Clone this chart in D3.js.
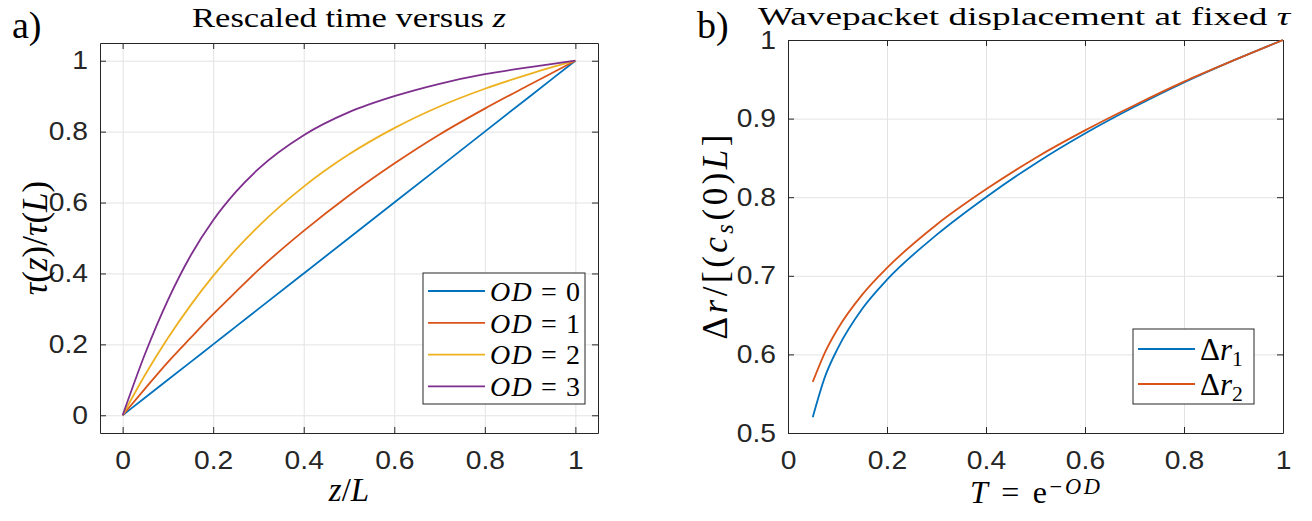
<!DOCTYPE html>
<html>
<head>
<meta charset="utf-8">
<script src="https://cdn.jsdelivr.net/npm/d3@7"></script>
<style>
  body { margin: 0; background: #fff; }
  .tick text { font-family: "Liberation Sans", Arial, sans-serif; font-size: 25px; fill: #262626; }
  .tex { font-family: "Liberation Serif", "Times New Roman", serif; fill: #000; }
</style>
</head>
<body>
<svg id="fig" width="1312" height="521"></svg>
<script>
// panel a: tau(z)/tau(L) against z/L
var zA = [0, 0.05, 0.1, 0.15, 0.2, 0.25, 0.3, 0.4, 0.5, 0.6, 0.7, 0.8, 0.9, 1];
var od0 = [0, 0.05, 0.1, 0.15, 0.2, 0.25, 0.3, 0.4, 0.5, 0.6, 0.7, 0.8, 0.9, 1];
var od1 = [0, 0.076, 0.15, 0.218, 0.285, 0.348, 0.41, 0.52, 0.62, 0.71, 0.792, 0.865, 0.933, 1];
var od2 = [0, 0.115, 0.218, 0.31, 0.393, 0.467, 0.533, 0.645, 0.736, 0.81, 0.871, 0.921, 0.963, 1];
var od3 = [0, 0.175, 0.325, 0.45, 0.55, 0.63, 0.695, 0.79, 0.855, 0.90, 0.935, 0.962, 0.982, 1];
var odLabels = ["0", "1", "2", "3"];

// panel b: displacement against transmission T
var tB = [0.05, 0.075, 0.1, 0.15, 0.2, 0.3, 0.4, 0.5, 0.6, 0.7, 0.8, 0.9, 1];
var dr1 = [0.52, 0.572, 0.607, 0.658, 0.695, 0.752, 0.80, 0.843, 0.881, 0.915, 0.946, 0.974, 1];
var dr2 = [0.565, 0.603, 0.632, 0.676, 0.71, 0.765, 0.81, 0.85, 0.885, 0.917, 0.947, 0.974, 1];

var ticksA = [0, 0.2, 0.4, 0.6, 0.8, 1];
var ticksBy = [0.5, 0.6, 0.7, 0.8, 0.9, 1];

var colors = ["#0072BD", "#D95319", "#EDB120", "#7E2F8E"];

function Panel() {
  var x = 0, y = 0, width = 400, height = 300;
  var xdom = [0, 1], ydom = [0, 1], xticks = [], yticks = [];

  function panel(g) {
    var sx = d3.scaleLinear().domain(xdom).range([0, width]);
    var sy = d3.scaleLinear().domain(ydom).range([height, 0]);
    g.attr("transform", "translate(" + x + "," + y + ")");

    // grid
    g.append("g").attr("class", "grid").attr("transform", "translate(0," + height + ")")
      .call(d3.axisBottom(sx).tickValues(xticks).tickSize(-height).tickFormat(""));
    g.append("g").attr("class", "grid")
      .call(d3.axisLeft(sy).tickValues(yticks).tickSize(-width).tickFormat(""));
    g.selectAll(".grid .domain").remove();
    g.selectAll(".grid line").attr("stroke", "#e3e3e3").attr("stroke-width", 1);

    var fmt = function(d) { return d3.format("~g")(d); };
    var bx = g.append("g").attr("class", "ax").attr("transform", "translate(0," + height + ")")
      .call(d3.axisBottom(sx).tickValues(xticks).tickSizeInner(-6).tickSizeOuter(0).tickPadding(18).tickFormat(fmt));
    g.append("g").attr("class", "ax")
      .call(d3.axisLeft(sy).tickValues(yticks).tickSizeInner(-6).tickSizeOuter(0).tickPadding(12).tickFormat(fmt));
    g.append("g").attr("class", "ax")
      .call(d3.axisTop(sx).tickValues(xticks).tickSizeInner(-6).tickSizeOuter(0).tickFormat(""));
    g.append("g").attr("class", "ax").attr("transform", "translate(" + width + ",0)")
      .call(d3.axisRight(sy).tickValues(yticks).tickSizeInner(-6).tickSizeOuter(0).tickFormat(""));
    g.selectAll(".ax .domain").attr("stroke", "#262626").attr("stroke-width", 1);
    g.selectAll(".ax line").attr("stroke", "#262626");
    bx.selectAll("text").attr("dy", "0.71em");
    // matlab digits come out a bit wider than Liberation Sans
    g.selectAll(".ax text").each(function() {
      var w = this.getComputedTextLength();
      if (w > 0) d3.select(this).attr("textLength", w * 1.13).attr("lengthAdjust", "spacingAndGlyphs");
    });

    panel.sx = sx; panel.sy = sy;
  }

  panel.x = function(_) { if (!arguments.length) return x; x = _; return panel; };
  panel.y = function(_) { if (!arguments.length) return y; y = _; return panel; };
  panel.width = function(_) { if (!arguments.length) return width; width = _; return panel; };
  panel.height = function(_) { if (!arguments.length) return height; height = _; return panel; };
  panel.xdom = function(_) { if (!arguments.length) return xdom; xdom = _; return panel; };
  panel.ydom = function(_) { if (!arguments.length) return ydom; ydom = _; return panel; };
  panel.xticks = function(_) { if (!arguments.length) return xticks; xticks = _; return panel; };
  panel.yticks = function(_) { if (!arguments.length) return yticks; yticks = _; return panel; };
  return panel;
}

function drawLines(g, sx, sy, xs, series) {
  var line = d3.line().curve(d3.curveMonotoneX)
    .x(function(d) { return sx(d[0]); }).y(function(d) { return sy(d[1]); });
  g.selectAll("path.curve").data(series).enter().append("path")
    .attr("class", "curve").attr("fill", "none").attr("stroke-width", 1.8)
    .attr("stroke", function(d) { return d.color; })
    .attr("d", function(d) { return line(xs.map(function(v, i) { return [v, d.values[i]]; })); });
}

// label helper: parts are [text, style] pairs, style: i = italic, sub, sup
function texText(sel, parts, size) {
  var t = sel.append("text").attr("class", "tex").attr("font-size", size);
  parts.forEach(function(p) {
    var s = t.append("tspan").text(p[0]);
    if (p[1] && p[1].indexOf("i") >= 0) s.attr("font-style", "italic");
    if (p[1] && p[1].indexOf("sub") >= 0) s.attr("font-size", size * 0.7).attr("baseline-shift", "-25%");
    if (p[1] && p[1].indexOf("sup") >= 0) s.attr("font-size", size * 0.7).attr("baseline-shift", "40%");
  });
  return t;
}

var svg = d3.select("#fig");

/* ---- panel a ---- */
var pa = Panel().x(100).y(43).width(498).height(390)
  .xdom([-0.05, 1.05]).ydom([-0.05, 1.05]).xticks(ticksA).yticks(ticksA);
var ga = svg.append("g").call(pa);
var seriesA = [od0, od1, od2, od3].map(function(v, i) { return { values: v, color: colors[i] }; });
drawLines(ga, pa.sx, pa.sy, zA, seriesA);

var legA = ga.append("g").attr("transform", "translate(323,230)");
legA.append("rect").attr("width", 162).attr("height", 131).attr("fill", "#fff").attr("stroke", "#262626");
odLabels.forEach(function(lab, i) {
  var row = legA.append("g").attr("transform", "translate(0," + (18 + i * 31.8) + ")");
  row.append("line").attr("x1", 5).attr("x2", 62).attr("stroke", colors[i]).attr("stroke-width", 1.8);
  texText(row, [["OD", "i"], [" = " + lab, ""]], 28).attr("x", 67).attr("dy", "0.35em")
    .attr("textLength", 90).attr("lengthAdjust", "spacing");
});

texText(svg, [["Rescaled time versus ", ""], ["z", "i"]], 27)
  .attr("x", 349).attr("y", 27).attr("text-anchor", "middle")
  .attr("textLength", 314).attr("lengthAdjust", "spacingAndGlyphs");
texText(svg, [["z", "i"], ["/", ""], ["L", "i"]], 33).attr("x", 349).attr("y", 501).attr("text-anchor", "middle");
texText(svg, [["τ", "i"], ["(", ""], ["z", "i"], [")/", ""], ["τ", "i"], ["(", ""], ["L", "i"], [")", ""]], 35)
  .attr("text-anchor", "middle").attr("transform", "translate(47,238) rotate(-90)");
svg.append("text").attr("class", "tex").attr("font-size", 38).attr("x", 12).attr("y", 38).text("a)");

/* ---- panel b ---- */
var pb = Panel().x(788).y(40).width(495).height(393)
  .xdom([0, 1]).ydom([0.5, 1]).xticks(ticksA).yticks(ticksBy);
var gb = svg.append("g").call(pb);
var seriesB = [dr1, dr2].map(function(v, i) { return { values: v, color: colors[i] }; });
drawLines(gb, pb.sx, pb.sy, tB, seriesB);

var legB = gb.append("g").attr("transform", "translate(345,289)");
legB.append("rect").attr("width", 121).attr("height", 75).attr("fill", "#fff").attr("stroke", "#262626");
["1", "2"].forEach(function(lab, i) {
  var row = legB.append("g").attr("transform", "translate(0," + (20 + i * 35) + ")");
  row.append("line").attr("x1", 5).attr("x2", 62).attr("stroke", colors[i]).attr("stroke-width", 1.8);
  texText(row, [["Δ", ""], ["r", "i"], [lab, "sub"]], 31).attr("x", 67).attr("dy", "0.35em");
});

texText(svg, [["Wavepacket displacement at fixed ", ""], ["τ", "i"]], 26)
  .attr("x", 1024).attr("y", 25).attr("text-anchor", "middle")
  .attr("textLength", 532).attr("lengthAdjust", "spacingAndGlyphs");
texText(svg, [["T", "i"], [" = e", ""], ["−", "sup"], ["OD", "i sup"]], 32)
  .attr("x", 1035).attr("y", 503).attr("text-anchor", "middle")
  .attr("textLength", 130).attr("lengthAdjust", "spacing");
texText(svg, [["Δ", ""], ["r", "i"], ["/[(", ""], ["c", "i"], ["s", "i sub"], ["(0)", ""], ["L", "i"], ["]", ""]], 35)
  .attr("text-anchor", "middle").attr("transform", "translate(727,237) rotate(-90)")
  .attr("textLength", 205).attr("lengthAdjust", "spacing");
svg.append("text").attr("class", "tex").attr("font-size", 38).attr("x", 697).attr("y", 38).text("b)");
</script>
</body>
</html>
